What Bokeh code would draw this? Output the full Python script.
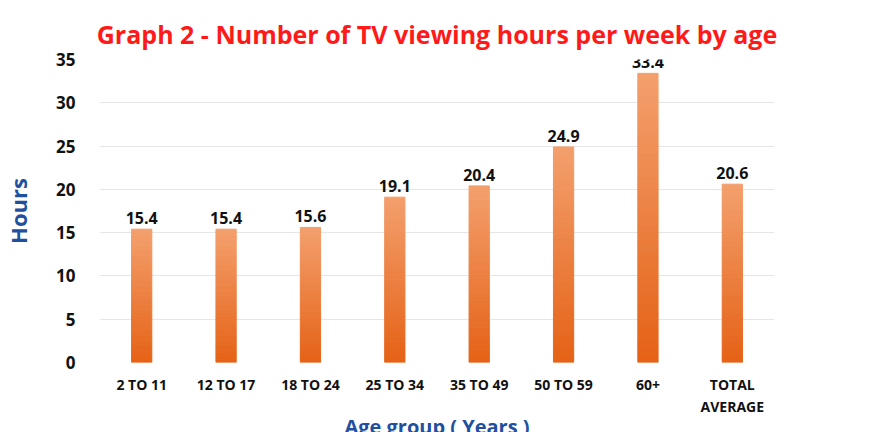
import numpy as np
from bokeh.plotting import figure
from bokeh.models import ColumnDataSource, Range1d, FixedTicker
from bokeh.embed import file_html
from bokeh.resources import INLINE

categories = ["2 TO 11", "12 TO 17", "18 TO 24", "25 TO 34", "35 TO 49", "50 TO 59", "60+", "TOTAL\nAVERAGE"]
hours = [15.4, 15.4, 15.6, 19.1, 20.4, 24.9, 33.4, 20.6]
labels = ["15.4", "15.4", "15.6", "19.1", "20.4", "24.9", "33.4", "20.6"]
yticks = [0, 5, 10, 15, 20, 25, 30, 35]

p = figure(x_range=categories, y_range=Range1d(0, 35), frame_width=675, frame_height=303,
           output_backend="svg", toolbar_location=None,
           min_border_left=97, min_border_right=95, min_border_top=59, min_border_bottom=50)

N = 40
top_c = np.array([0xf4, 0xa0, 0x6e]); bot_c = np.array([0xe5, 0x62, 0x16])
xs, b, t, cols = [], [], [], []
for c, h in zip(categories, hours):
    edges = np.linspace(0, h, N + 1)
    for i in range(N):
        f = (i + 0.5) / N
        col = bot_c + (top_c - bot_c) * f
        xs.append(c); b.append(edges[i]); t.append(edges[i + 1])
        cols.append("#%02x%02x%02x" % tuple(int(v) for v in col))
p.vbar(x=xs, bottom=b, top=t, width=0.24, fill_color=cols, line_color=cols, line_width=1)

src = ColumnDataSource(dict(x=categories, y=hours, t=labels))
p.text(x="x", y="y", text="t", source=src, text_align="center", text_baseline="bottom",
       y_offset=-5, text_font_size="16px", text_font_style="bold", text_color="#111111",
       text_font={"value": "Open Sans"})

p.title.text = "Graph 2 - Number of TV viewing hours per week by age"
p.title.align = "center"
p.title.text_color = "#ff1a1a"
p.title.text_font = "Open Sans"
p.title.text_font_size = "25px"
p.title.text_font_style = "bold"
p.title.offset = 0
p.title.standoff = 18

p.outline_line_color = None
p.xgrid.grid_line_color = None
p.ygrid.grid_line_color = "#e6e6e6"
p.ygrid.ticker = FixedTicker(ticks=yticks)
p.yaxis.ticker = FixedTicker(ticks=yticks)
for ax in (p.xaxis, p.yaxis):
    ax.axis_line_color = None
    ax.major_tick_line_color = None
    ax.minor_tick_line_color = None
    ax.major_label_text_font = "Open Sans"
    ax.major_label_text_font_style = "bold"
    ax.major_label_text_color = "#111111"
    ax.axis_label_text_font = "Open Sans"
    ax.axis_label_text_font_style = "bold"
    ax.axis_label_text_color = "#1f4fa0"
p.yaxis.major_label_text_font_size = "17px"
p.xaxis.major_label_text_font_size = "14px"
p.yaxis.major_label_standoff = 18
p.xaxis.major_label_standoff = 6
p.xaxis.axis_label = "Age group ( Years )"
p.yaxis.axis_label = "Hours"
p.xaxis.axis_label_text_font_size = "20px"
p.yaxis.axis_label_text_font_size = "22px"
p.xaxis.axis_label_standoff = -6
p.yaxis.axis_label_standoff = 20

open("out.html", "w").write(file_html(p, INLINE))
